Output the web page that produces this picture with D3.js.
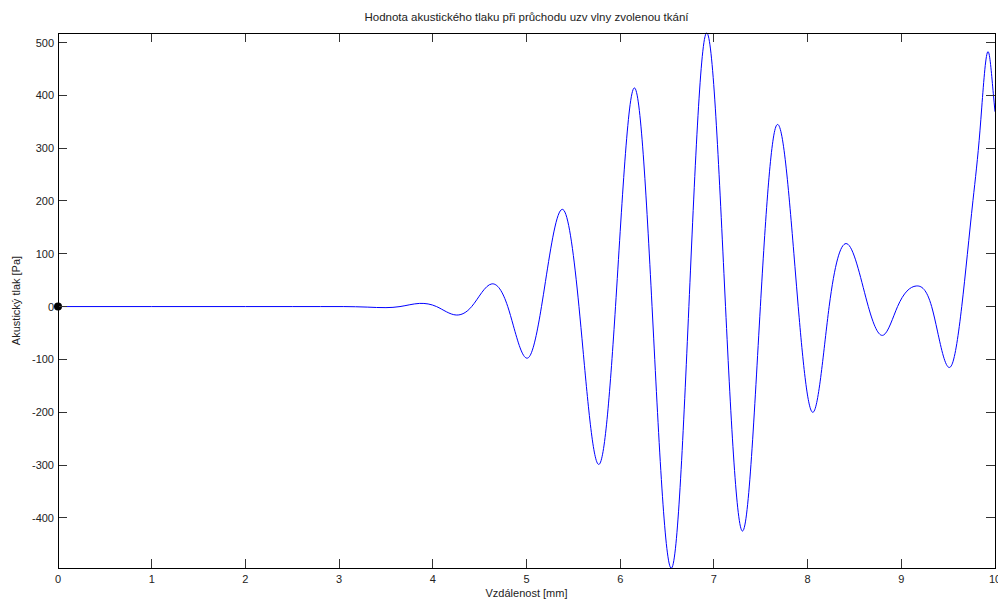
<!DOCTYPE html>
<html>
<head>
<meta charset="utf-8">
<script src="https://cdn.jsdelivr.net/npm/d3@7"></script>
<style>
  html, body { margin: 0; padding: 0; background: #fff; }
  svg { display: block; font-family: "Liberation Sans", Arial, sans-serif; }
</style>
</head>
<body>
<div id="chart"></div>
<script>
// distance [mm] and acoustic pressure [Pa]
const distance = [0, 1, 2, 2.5, 2.8, 3.05, 3.3, 3.5, 3.65, 3.86, 4.04, 4.25, 4.415, 4.63, 4.80, 5.03, 5.16, 5.40, 5.56,
  5.78, 5.95, 6.15, 6.34, 6.556, 6.733, 6.916, 7.124, 7.307, 7.496, 7.66, 7.90, 8.06, 8.23, 8.43,
  8.648, 8.81, 8.96, 9.16, 9.324, 9.54, 9.645, 9.765, 9.84, 9.93, 9.982, 10];
const pressure = [0, 0, 0, 0, 0, 0, -1, -2, 0, 6, 0, -16, 0, 43, 0, -95, 0, 182, 0,
  -298, 0, 414, 0, -493, 0, 517, 0, -425, 0, 340, 0, -200, 0, 118,
  0, -54, 0, 39, 0, -110, 0, 201, 334, 482, 403, 369];
const xTicks = d3.range(0, 11);
const yTicks = [-400, -300, -200, -100, 0, 100, 200, 300, 400, 500];

const W = 998, H = 602;
const margin = { top: 33, right: 3, bottom: 34, left: 58 };
const TICK = 9;

// natural cubic spline in x (y as a function of x), drawn as bezier segments
function curveSplineX(context) {
  let xs, ys;
  return {
    areaStart() {}, areaEnd() {},
    lineStart() { xs = []; ys = []; },
    point(px, py) { xs.push(+px); ys.push(+py); },
    lineEnd() {
      const n = xs.length;
      if (!n) return;
      const h = d3.range(n - 1).map(i => xs[i + 1] - xs[i]);
      const m = new Array(n).fill(0);
      // tridiagonal solve for second derivatives, natural ends
      const a = [], b = [], c = [], r = [];
      for (let i = 1; i < n - 1; i++) {
        a.push(h[i - 1]);
        b.push(2 * (h[i - 1] + h[i]));
        c.push(h[i]);
        r.push(6 * ((ys[i + 1] - ys[i]) / h[i] - (ys[i] - ys[i - 1]) / h[i - 1]));
      }
      const k = r.length;
      for (let i = 1; i < k; i++) {
        const w = a[i] / b[i - 1];
        b[i] -= w * c[i - 1];
        r[i] -= w * r[i - 1];
      }
      for (let i = k - 1; i >= 0; i--) {
        m[i + 1] = (r[i] - (i < k - 1 ? c[i] * m[i + 2] : 0)) / b[i];
      }
      const d = xs.map((_, i) => i < n - 1
        ? (ys[i + 1] - ys[i]) / h[i] - h[i] * (2 * m[i] + m[i + 1]) / 6
        : (ys[i] - ys[i - 1]) / h[i - 1] + h[i - 1] * (m[i - 1] + 2 * m[i]) / 6);
      context.moveTo(xs[0], ys[0]);
      for (let i = 0; i < n - 1; i++) {
        const t = h[i] / 3;
        context.bezierCurveTo(xs[i] + t, ys[i] + d[i] * t,
          xs[i + 1] - t, ys[i + 1] - d[i + 1] * t, xs[i + 1], ys[i + 1]);
      }
    }
  };
}

const x = d3.scaleLinear().domain([0, 10]).range([margin.left, W - margin.right]);
const y = d3.scaleLinear().domain([-495, 518]).range([H - margin.bottom, margin.top]);

const svg = d3.select("#chart").append("svg")
  .attr("width", W).attr("height", H);

const points = distance.map((d, i) => ({ x: d, y: pressure[i] }));

// curve
svg.append("path")
  .datum(points)
  .attr("fill", "none")
  .attr("stroke", "#0000ff")
  .attr("stroke-width", 1)
  .attr("d", d3.line().x(d => x(d.x)).y(d => y(d.y)).curve(curveSplineX));

// start marker
svg.append("circle")
  .attr("cx", x(0)).attr("cy", y(0))
  .attr("r", 4).attr("fill", "#000");

// axes, ticks inside the box on all four sides
const [xL, xR] = x.range();
const [yB, yT] = y.range();

const ticks = svg.append("g")
  .attr("stroke", "#333")
  .attr("shape-rendering", "crispEdges");

xTicks.forEach(t => {
  ticks.append("line").attr("x1", x(t)).attr("x2", x(t)).attr("y1", yB).attr("y2", yB - TICK);
  ticks.append("line").attr("x1", x(t)).attr("x2", x(t)).attr("y1", yT).attr("y2", yT + TICK);
});
yTicks.forEach(t => {
  ticks.append("line").attr("x1", xL).attr("x2", xL + TICK).attr("y1", y(t)).attr("y2", y(t));
  ticks.append("line").attr("x1", xR).attr("x2", xR - TICK).attr("y1", y(t)).attr("y2", y(t));
});

svg.append("rect")
  .attr("x", xL).attr("y", yT)
  .attr("width", xR - xL).attr("height", yB - yT)
  .attr("fill", "none").attr("stroke", "#000")
  .attr("shape-rendering", "crispEdges");

svg.append("g").selectAll("text")
  .data(xTicks).join("text")
  .attr("x", d => x(d)).attr("y", yB + 15)
  .attr("text-anchor", "middle")
  .attr("font-size", 11).attr("fill", "#222")
  .text(d => d);

svg.append("g").selectAll("text")
  .data(yTicks).join("text")
  .attr("x", xL - 4).attr("y", d => y(d) + 4)
  .attr("text-anchor", "end")
  .attr("font-size", 11).attr("fill", "#222")
  .text(d => d);

// labels
svg.append("text")
  .attr("x", (xL + xR) / 2).attr("y", 21)
  .attr("text-anchor", "middle")
  .attr("font-size", 11.5).attr("fill", "#222")
  .text("Hodnota akustického tlaku při průchodu uzv vlny zvolenou tkání");

svg.append("text")
  .attr("x", (xL + xR) / 2).attr("y", 597)
  .attr("text-anchor", "middle")
  .attr("font-size", 11).attr("fill", "#222")
  .text("Vzdálenost [mm]");

svg.append("text")
  .attr("transform", `translate(20,${(yT + yB) / 2}) rotate(-90)`)
  .attr("text-anchor", "middle")
  .attr("font-size", 11).attr("fill", "#222")
  .text("Akustický tlak [Pa]");
</script>
</body>
</html>
